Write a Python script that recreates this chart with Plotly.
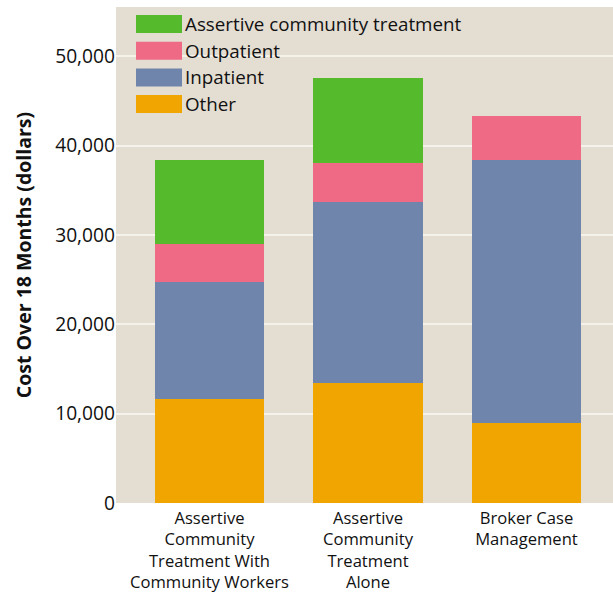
import plotly.graph_objects as go

categories = ["Assertive<br>Community<br>Treatment With<br>Community Workers",
              "Assertive<br>Community<br>Treatment<br>Alone",
              "Broker Case<br>Management"]
series_names = ["Other", "Inpatient", "Outpatient", "Assertive community treatment"]
other = [11590, 13380, 8900]
inpatient = [13100, 20270, 29450]
outpatient = [4340, 4340, 4930]
act = [9320, 9550, 0]
colors = ["#F0A500", "#6F85AC", "#EE6A85", "#55BB2D"]
values = [other, inpatient, outpatient, act]
y_ticks = [0, 10000, 20000, 30000, 40000, 50000]

FONT = "Open Sans"
L, R, T, B = 116, 0, 7, 93
W, H = 613, 596
pw, ph = W - L - R, H - T - B

fig = go.Figure()
xs = list(range(len(categories)))
for name, vals, col in zip(series_names, values, colors):
    fig.add_trace(go.Bar(x=xs, y=vals, name=name, marker=dict(color=col, line=dict(width=0)),
                         width=0.688, showlegend=False))

def px2x(px):
    return (px - L) / pw
def py2y(py):
    return (H - B - py) / ph

shapes = []
annotations = []
legend_order = list(zip(series_names, colors))[::-1]
for i, (name, col) in enumerate(legend_order):
    top = 15 + i * 26.7
    shapes.append(dict(type="rect", xref="paper", yref="paper",
                       x0=px2x(136), x1=px2x(182), y0=py2y(top + 18), y1=py2y(top),
                       fillcolor=col, line=dict(width=0), layer="above"))
    annotations.append(dict(xref="paper", yref="paper", x=px2x(183), y=py2y(top + 9),
                            text=name, showarrow=False, xanchor="left", yanchor="middle",
                            font=dict(family=FONT, size=18.8, color="#111111")))

fig.update_layout(
    width=W, height=H,
    margin=dict(l=L, r=R, t=T, b=B, pad=0, autoexpand=False),
    barmode="stack",
    plot_bgcolor="#E4DDD2", paper_bgcolor="white",
    font=dict(family=FONT, size=18, color="#111111"),
    shapes=shapes, annotations=annotations,
    xaxis=dict(tickmode="array", tickvals=xs, ticktext=categories, range=[-0.59, 2.546],
               showgrid=False, zeroline=False, ticks="", showline=False,
               automargin=False, ticklabelstandoff=3,
               tickfont=dict(family=FONT, size=16.6)),
    yaxis=dict(range=[0, 55500], tickvals=y_ticks, tickformat=",", showgrid=True,
               gridcolor="#F5F1EB", gridwidth=2, zeroline=False, ticks="", ticklen=7,
               automargin=False,
               tickfont=dict(family=FONT, size=19.2),
               title=dict(text="<b>Cost Over 18 Months (dollars)</b>", standoff=18,
                          font=dict(family=FONT, size=19.5))),
)
fig.write_html("out.html", config={"displayModeBar": False},
               post_script="document.body.style.margin='0';")
